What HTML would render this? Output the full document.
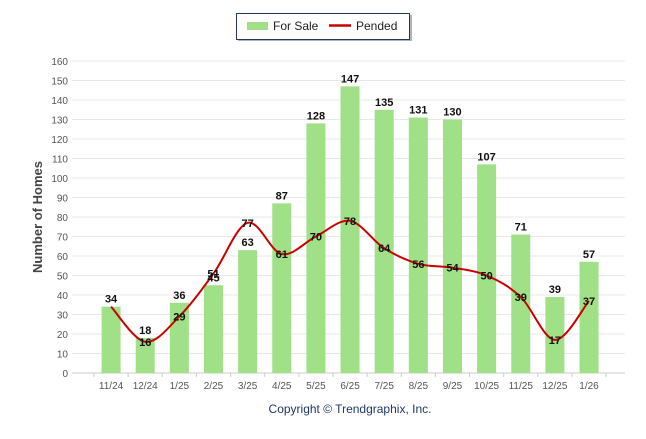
<!DOCTYPE html>
<html><head><meta charset="utf-8"><style>
body{margin:0;background:#fff;width:646px;height:434px;overflow:hidden;font-family:"Liberation Sans",Arial,sans-serif}
</style></head><body>
<svg id="chart" width="646" height="434" xmlns="http://www.w3.org/2000/svg" font-family="Liberation Sans, Arial, sans-serif">
<g>
<rect x="238" y="15" width="174" height="26" fill="#666" opacity="0.5"/>
<rect x="236.5" y="13.5" width="173" height="26" fill="#fff" stroke="#1f3864" stroke-width="1"/>
<rect x="247" y="22" width="21" height="8" fill="#a0e086"/>
<text x="273" y="30" font-size="12" fill="#222">For Sale</text>
<line x1="329" y1="25.5" x2="351" y2="25.5" stroke="#cc0000" stroke-width="2.5"/>
<text x="356" y="30" font-size="12" fill="#222">Pended</text>
</g>
<text transform="translate(42,217) rotate(-90)" text-anchor="middle" font-size="13" font-weight="bold" fill="#444">Number of Homes</text>
<text x="350" y="413" text-anchor="middle" font-size="12" fill="#1f3864">Copyright © Trendgraphix, Inc.</text>
<g id="grid"></g><g id="bars"></g><g id="line"></g><g id="labels"></g>
</svg>
<script>
const categories=["11/24","12/24","1/25","2/25","3/25","4/25","5/25","6/25","7/25","8/25","9/25","10/25","11/25","12/25","1/26"];
const forSale=[34,18,36,45,63,87,128,147,135,131,130,107,71,39,57];
const pended=[34,16,29,51,77,61,70,78,64,56,54,50,39,17,37];
const yTicks=[0,10,20,30,40,50,60,70,80,90,100,110,120,130,140,150,160];
const NS="http://www.w3.org/2000/svg";
const x0=94,step=34.14,y0=373,yTop=61,yMax=160;
const xs=i=>x0+step*(i+0.5);
const ys=v=>y0-(v/yMax)*(y0-yTop);
function mk(t,a,p){const e=document.createElementNS(NS,t);for(const k in a)e.setAttribute(k,a[k]);p.appendChild(e);return e;}
const g=document.getElementById('grid');
yTicks.forEach(v=>{
 const l=mk('line',{x1:72,x2:625,y1:ys(v),y2:ys(v),stroke:v===0?'#ccc':'#e8e8e8','stroke-width':1},g);
 
 
 const t=mk('text',{x:68,y:ys(v)+4,'text-anchor':'end','font-size':10,fill:'#555'},g);
 t.textContent=v;
 
 
});
for(let i=0;i<=categories.length;i++){
 const tk=mk('line',{x1:x0+step*i,x2:x0+step*i,y1:y0,y2:y0+4,stroke:'#ccc'},g);
 
 
}
const b=document.getElementById('bars'),lb=document.getElementById('labels');
categories.forEach((c,i)=>{
 const r=mk('rect',{x:xs(i)-9.5,y:ys(forSale[i]),width:19,height:y0-ys(forSale[i]),fill:'#a0e086'},b);
 
 
 const t=mk('text',{x:xs(i),y:y0+16,'text-anchor':'middle','font-size':10,fill:'#555'},g);
 t.textContent=c;
 
 
 const bl=mk('text',{x:xs(i),y:ys(forSale[i])-4,'text-anchor':'middle','font-size':11,'font-weight':'bold',fill:'#111'},lb);
 bl.textContent=forSale[i];
 
 
 if(pended[i]!==forSale[i]){
  const pl=mk('text',{x:xs(i),y:ys(pended[i])+4,'text-anchor':'middle','font-size':11,'font-weight':'bold',fill:'#111'},lb);
  pl.textContent=pended[i];
  
  
 }
});
const pts=pended.map((v,i)=>[xs(i),ys(v)]);
let d='M'+pts[0][0]+','+pts[0][1];
for(let i=0;i<pts.length-1;i++){
 const p0=pts[Math.max(0,i-1)],p1=pts[i],p2=pts[i+1],p3=pts[Math.min(pts.length-1,i+2)];
 const c1=[p1[0]+(p2[0]-p0[0])/6,p1[1]+(p2[1]-p0[1])/6],c2=[p2[0]-(p3[0]-p1[0])/6,p2[1]-(p3[1]-p1[1])/6];
 d+=` C${c1[0]},${c1[1]} ${c2[0]},${c2[1]} ${p2[0]},${p2[1]}`;
}
const ln=mk('path',{d:d,fill:'none',stroke:'#cc0000','stroke-width':2},document.getElementById('line'));


</script>
</body></html>
